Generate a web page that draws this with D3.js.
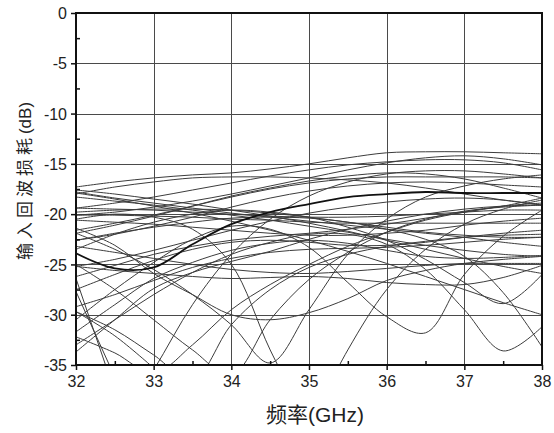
<!DOCTYPE html>
<html>
<head>
<meta charset="utf-8">
<script src="https://cdn.jsdelivr.net/npm/d3@7/dist/d3.min.js"></script>
<style>
  html, body { margin: 0; padding: 0; background: #fff; }
  svg { display: block; }
  text { font-family: "Liberation Sans", Arial, "Noto Sans CJK SC", sans-serif; fill: #222; }
</style>
</head>
<body>
<svg id="chart" width="554" height="433"></svg>
<script>
// Frequency grid (GHz) shared by every measured curve
const freqGHz = [32, 32.5, 33, 33.5, 34, 34.5, 35, 35.5, 36, 36.5, 37, 37.5, 38];
const xTickValues = [32, 33, 34, 35, 36, 37, 38];
const yTickValues = [0, -5, -10, -15, -20, -25, -30, -35];

// Input return loss curves (dB); null = outside the measured span
const s01 = [-17.3, -16.8, -16.4, -16.1, -15.9, -15.5, -15.0, -14.4, -13.9, -13.8, -13.8, -13.9, -14.0];
const s02 = [-18.0, -17.3, -16.8, -16.4, -16.3, -16.3, -16.4, -16.6, -16.9, -17.4, -18.0, -18.6, -19.1];
const s03 = [-19.4, -18.9, -18.3, -17.6, -16.9, -16.2, -15.6, -15.1, -14.8, -14.6, -14.6, -14.9, -15.6];
const s04 = [-20.1, -19.8, -19.3, -18.7, -18.0, -17.2, -16.4, -15.6, -14.9, -14.4, -14.2, -14.5, -15.1];
const s05 = [-21.6, -20.9, -20.1, -19.2, -18.3, -17.5, -16.9, -16.5, -16.3, -16.3, -16.3, -16.3, -16.4];
const s06 = [-22.6, -22.0, -21.2, -20.3, -19.3, -18.4, -17.7, -17.2, -16.9, -16.8, -16.9, -17.1, -17.3];
const s07 = [-23.9, -25.4, -25.3, -23.0, -21.0, -19.8, -19.0, -18.3, -18.0, -17.8, -17.9, -17.9, -17.9];
const s08 = [-17.8, -18.4, -18.9, -19.4, -19.9, -20.3, -20.7, -21.1, -21.5, -21.9, -22.3, -22.8, -23.2];
const s09 = [-18.3, -18.7, -19.1, -19.6, -20.1, -20.6, -21.2, -21.8, -22.5, -23.1, -23.6, -24.0, -24.2];
const s10 = [-17.6, -18.0, -18.5, -19.0, -19.6, -20.2, -20.9, -21.7, -22.6, -23.5, -24.4, -25.2, -25.9];
const s11 = [-22.6, -21.9, -21.3, -20.8, -20.4, -20.3, -20.4, -20.8, -21.5, -22.5, -24.2, -27.8, -33.2];
const s12 = [-19.4, -19.5, -19.6, -19.8, -20.0, -20.2, -20.3, -20.3, -20.2, -20.0, -19.8, -19.6, -19.6];
const s13 = [-20.1, -20.1, -20.2, -20.3, -20.5, -20.6, -20.8, -20.9, -20.9, -20.9, -20.9, -20.9, -20.9];
const s14 = [-19.8, -19.6, -19.5, -19.5, -19.6, -19.9, -20.3, -20.8, -21.3, -21.8, -22.1, -22.3, -22.3];
const s15 = [-20.6, -20.8, -21.0, -21.3, -21.6, -21.9, -22.1, -22.1, -21.9, -21.6, -21.1, -20.7, -20.4];
const s16 = [-21.9, -21.1, -20.2, -19.2, -18.2, -17.4, -16.7, -16.2, -15.9, -16.0, -16.5, -17.4, -18.4];
const s17 = [-25.2, -24.5, -23.6, -22.6, -21.6, -20.7, -19.9, -19.3, -18.8, -18.5, -18.4, -18.6, -19.1];
const s18 = [-26.2, -25.1, -24.0, -23.2, -22.6, -22.2, -21.9, -21.5, -21.0, -20.4, -19.8, -19.2, -18.4];
const s19 = [-27.5, -26.0, -24.6, -23.5, -22.8, -22.6, -22.8, -23.1, -23.1, -22.8, -22.3, -21.9, -21.6];
const s20 = [-29.2, -28.0, -26.6, -25.3, -24.4, -23.8, -23.5, -23.4, -23.3, -23.1, -22.8, -22.5, -22.3];
const s21 = [-25.2, -25.6, -25.9, -26.2, -26.4, -26.3, -26.2, -26.4, -26.8, -27.0, -27.0, -26.3, -25.1];
const s22 = [-23.2, -23.8, -24.4, -25.0, -25.5, -25.8, -25.9, -25.7, -25.4, -25.1, -24.9, -24.9, -24.9];
const s23 = [-21.4, -23.1, -25.9, -28.0, -30.0, -30.5, -29.8, -28.4, -26.6, -25.6, -24.9, -24.5, -24.2];
const s24 = [-31.7, -29.0, -26.4, -24.8, -23.6, -22.9, -22.6, -22.9, -23.6, -24.2, -24.4, -24.3, -24.1];
const s25 = [-30.5, -27.5, -24.8, -22.5, -21.2, -21.5, -23.3, -26.8, -30.2, -31.8, -26.0, -22.2, -19.6];
const s26 = [-23.5, -22.0, -20.8, -20.0, -19.6, -19.8, -20.3, -21.3, -22.6, -24.5, -26.8, -28.9, -26.0];
const s27 = [-33.0, -30.5, -28.0, -25.8, -24.0, -22.8, -22.0, -22.0, -23.0, -25.5, -29.5, -33.6, -31.2];
const s28 = [-21.9, -23.5, -25.5, -28.0, -31.0, -34.8, -29.5, -24.0, -20.5, -18.3, -17.2, -16.5, -16.1];
const s29 = [-25.0, -27.5, -30.5, -33.5, -36.0, -30.5, -26.5, -23.8, -21.8, -20.5, -19.7, -19.3, -19.1];
const s30 = [-29.7, -31.5, -34.0, -36.5, -31.0, -27.5, -25.3, -24.0, -23.2, -22.7, -22.3, -22.1, -22.0];
const s31 = [-26.4, -37.7, null, null, null, null, null, null, null, null, null, null, null];
const s32 = [-27.7, -36.2, null, null, null, null, null, null, null, null, null, null, null];
const s33 = [-29.7, -32.1, -35.3, null, null, null, null, null, null, null, null, null, null];
const s34 = [-33.7, -30.5, -27.4, -25.8, -24.7, -23.7, -22.5, -21.5, -20.7, -20.0, -19.5, -19.2, -19.1];
const s35 = [null, -41.5, -35.5, -29.0, -24.0, -20.5, -18.2, -16.8, -16.0, -15.7, -15.7, -16.0, -16.4];
const s36 = [null, null, null, null, null, null, -41.0, -33.5, -27.5, -23.5, -21.0, -19.5, -18.6];
const s37 = [-20.5, -20.0, -20.3, -21.5, -25.0, -33.5, -41.0, null, null, null, null, null, null];
const s38 = [-17.9, -18.5, -19.2, -19.9, -20.7, -21.6, -22.6, -23.7, -24.9, -26.2, -27.5, -28.8, -30.0];
const s39 = [-32.2, -33.8, -35.8, -33.0, -29.5, -27.0, -25.0, -23.2, -21.8, -20.6, -19.8, -19.2, -18.9];

const returnLossCurves = [s01, s02, s03, s04, s05, s06, s08, s09, s10, s11, s12, s13, s14, s15,
  s16, s17, s18, s19, s20, s21, s22, s23, s24, s25, s26, s27, s28, s29, s30, s31, s32, s33,
  s34, s35, s36, s37, s38, s39];
const boldCurves = [s07];

const svg = d3.select("#chart");
const plot = { left: 76, right: 542, top: 13, bottom: 365 };

const x = d3.scaleLinear().domain([32, 38]).range([plot.left, plot.right]);
const y = d3.scaleLinear().domain([-35, 0]).range([plot.bottom, plot.top]);

svg.append("defs").append("clipPath").attr("id", "plotClip")
  .append("rect")
  .attr("x", plot.left).attr("y", plot.top)
  .attr("width", plot.right - plot.left).attr("height", plot.bottom - plot.top);

// Grid lines at the major ticks
const grid = svg.append("g").attr("stroke", "#4a4a4a").attr("stroke-width", 1);
grid.selectAll("line.gx").data(xTickValues.slice(1, -1)).join("line")
  .attr("x1", d => Math.round(x(d)) + 0.5).attr("x2", d => Math.round(x(d)) + 0.5)
  .attr("y1", plot.top).attr("y2", plot.bottom);
grid.selectAll("line.gy").data(yTickValues.slice(1, -1)).join("line")
  .attr("y1", d => Math.round(y(d)) + 0.5).attr("y2", d => Math.round(y(d)) + 0.5)
  .attr("x1", plot.left).attr("x2", plot.right);

// Curves
const line = d3.line()
  .defined(d => d[1] !== null)
  .x(d => x(d[0]))
  .y(d => y(d[1]))
  .curve(d3.curveCatmullRom.alpha(0.5));

const curves = svg.append("g").attr("clip-path", "url(#plotClip)").attr("fill", "none");
curves.selectAll("path.c").data(returnLossCurves).join("path")
  .attr("class", "c")
  .attr("d", vals => line(vals.map((v, i) => [freqGHz[i], v])))
  .attr("stroke", "#3c3c3c")
  .attr("stroke-width", 1);
curves.selectAll("path.b").data(boldCurves).join("path")
  .attr("class", "b")
  .attr("d", vals => line(vals.map((v, i) => [freqGHz[i], v])))
  .attr("stroke", "#111")
  .attr("stroke-width", 1.8);

// Axes (plain hyphen minus in labels)
const fmt = d => String(d);
const xAxis = svg.append("g").attr("transform", `translate(0,${plot.bottom})`)
  .call(d3.axisBottom(x).tickValues(xTickValues).tickFormat(fmt).tickSize(5).tickSizeOuter(0).tickPadding(6));
const xMinor = svg.append("g").attr("transform", `translate(0,${plot.bottom})`)
  .call(d3.axisBottom(x).tickValues(d3.range(32.5, 38, 1)).tickSize(-4).tickSizeOuter(0).tickFormat(""));
const yAxis = svg.append("g").attr("transform", `translate(${plot.left},0)`)
  .call(d3.axisLeft(y).tickValues(yTickValues).tickFormat(fmt).tickSize(5).tickSizeOuter(0).tickPadding(4));
const yMinor = svg.append("g").attr("transform", `translate(${plot.left},0)`)
  .call(d3.axisLeft(y).tickValues(d3.range(-2.5, -35, -5)).tickSize(-4).tickSizeOuter(0).tickFormat(""));

[xAxis, xMinor, yAxis, yMinor].forEach(g => {
  g.select(".domain").remove();
  g.selectAll(".tick line").attr("stroke", "#111").attr("stroke-width", 1.5);
});
xAxis.selectAll("text").attr("font-size", 16).attr("fill", "#222");
yAxis.selectAll("text").attr("font-size", 16).attr("fill", "#222").attr("dy", "0.35em");

// Frame
svg.append("rect")
  .attr("x", plot.left).attr("y", plot.top)
  .attr("width", plot.right - plot.left).attr("height", plot.bottom - plot.top)
  .attr("fill", "none").attr("stroke", "#111").attr("stroke-width", 2);

// Axis titles
svg.append("text")
  .attr("x", (plot.left + plot.right) / 2 + 6).attr("y", 422)
  .attr("text-anchor", "middle").attr("font-size", 21)
  .text("频率(GHz)");

const yTitle = svg.append("text")
  .attr("transform", "translate(31,181) rotate(-90)")
  .attr("text-anchor", "middle").attr("font-size", 17);
yTitle.append("tspan").attr("letter-spacing", "4px").text("输入回波损耗");
yTitle.append("tspan").text("(dB)");
</script>
</body>
</html>
